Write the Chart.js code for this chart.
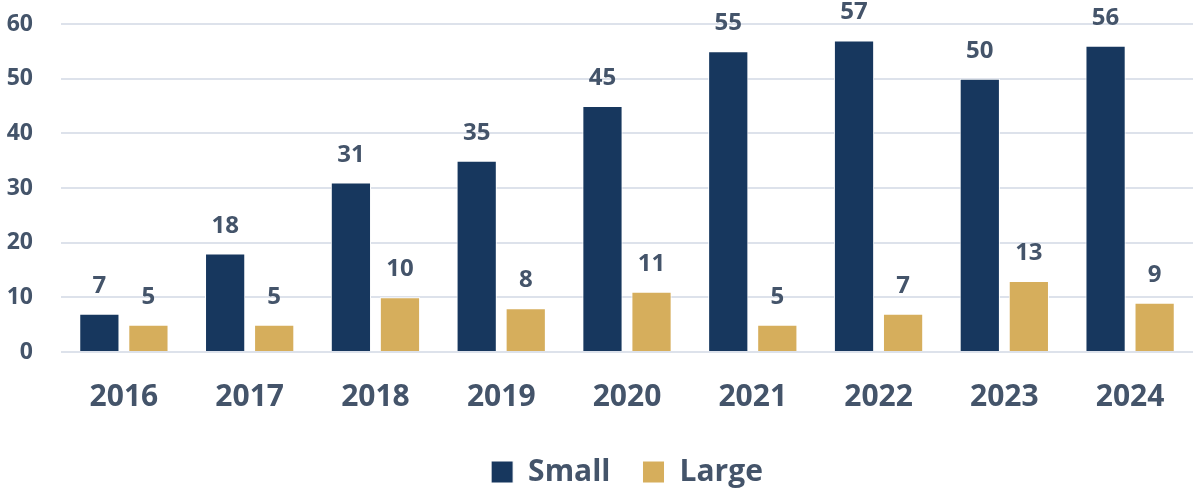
<!DOCTYPE html>
<html>
<head>
<meta charset="utf-8">
<script src="https://cdn.jsdelivr.net/npm/chart.js@4/dist/chart.umd.min.js"></script>
<style>
  html, body { margin: 0; padding: 0; background: #fff; }
  #wrap { width: 1199px; height: 488px; position: relative; }
</style>
</head>
<body>
<div id="wrap"><canvas id="chart"></canvas></div>
<script>
// ---------- Data ----------
const years = ['2016', '2017', '2018', '2019', '2020', '2021', '2022', '2023', '2024'];
const smallVals = [7, 18, 31, 35, 45, 55, 57, 50, 56];
const largeVals = [5, 5, 10, 8, 11, 5, 7, 13, 9];
const yTicks = [0, 10, 20, 30, 40, 50, 60];

const NAVY = '#17375e';
const GOLD = '#d6ae5c';
const TEXT = '#44546a';
const FONT = "'Open Sans', 'Noto Sans', sans-serif";

// labels on top of each bar, placed from the bar elements themselves
const barLabels = {
  id: 'barLabels',
  afterDatasetsDraw(chart) {
    const ctx = chart.ctx;
    ctx.save();
    ctx.font = `bold 24px ${FONT}`;
    ctx.fillStyle = TEXT;
    ctx.textAlign = 'center';
    ctx.textBaseline = 'alphabetic';
    chart.data.datasets.forEach((ds, i) => {
      chart.getDatasetMeta(i).data.forEach((bar, j) => {
        ctx.fillText(ds.data[j], bar.x, bar.y - 21);
      });
    });
    ctx.restore();
  }
};

new Chart(document.getElementById('chart'), {
  type: 'bar',
  data: {
    labels: years,
    datasets: [
      { label: 'Small', data: smallVals, backgroundColor: NAVY, borderColor: '#ffffff', borderWidth: 1 },
      { label: 'Large', data: largeVals, backgroundColor: GOLD, borderColor: '#ffffff', borderWidth: 1 }
    ]
  },
  options: {
    responsive: true,
    maintainAspectRatio: false,
    animation: false,
    devicePixelRatio: 1,
    categoryPercentage: 0.78,
    barPercentage: 0.82,
    layout: { padding: { top: 0, right: 6, left: 4, bottom: -9 } },
    plugins: {
      legend: {
        position: 'bottom',
        fullSize: false, // centre under the plot area, not the whole canvas
        labels: {
          boxWidth: 22, boxHeight: 22, padding: 32,
          color: TEXT,
          font: { family: FONT, size: 30, weight: 'bold' }
        }
      },
      tooltip: { enabled: false }
    },
    scales: {
      x: {
        grid: { display: false },
        border: { display: false },
        afterFit: axis => { axis.height = 73; },
        ticks: {
          color: TEXT, padding: 19,
          font: { family: FONT, size: 30, weight: 'bold' }
        }
      },
      y: {
        min: 0, max: 60,
        afterBuildTicks: axis => { axis.ticks = yTicks.map(v => ({ value: v })); },
        afterFit: axis => { axis.width = 57; axis.paddingTop = 24; },
        grid: { color: '#dde2eb', lineWidth: 2, drawTicks: false },
        border: { display: false },
        ticks: {
          color: TEXT, padding: 28,
          font: { family: FONT, size: 23, weight: 'bold' }
        }
      }
    }
  },
  plugins: [barLabels]
});
</script>
</body>
</html>
